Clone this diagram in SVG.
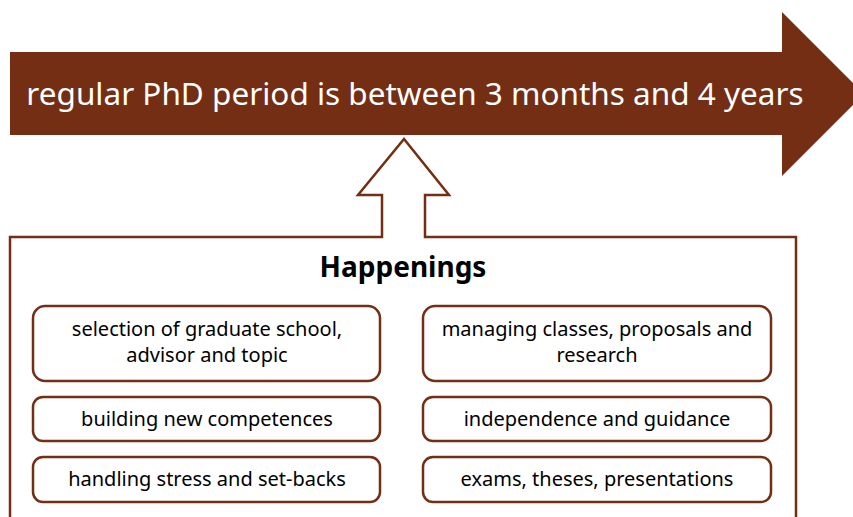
<svg xmlns="http://www.w3.org/2000/svg" width="853" height="517" viewBox="0 0 853 517">
  <style>
    .lbl { font-family: "Noto Sans", "DejaVu Sans", sans-serif; font-size: 20px; fill: #000; text-anchor: middle; }
    .item { fill: #fff; stroke: #732e14; stroke-width: 2.5; }
  </style>
  <rect width="853" height="517" fill="#fff"/>

  <!-- timeline arrow -->
  <g id="timeline">
    <polygon points="10,52 782,52 782,12 864,94 782,176 782,135 10,135" fill="#732e14"/>
    <text x="415" y="105" font-family="Noto Sans, DejaVu Sans, sans-serif" font-size="31.5" fill="#fff" text-anchor="middle">regular PhD period is between 3 months and 4 years</text>
  </g>

  <!-- happenings frame with the hollow up arrow joined to its top edge -->
  <g id="happenings">
    <path d="M10,530 L10,237 L382,237 L382,195 L358,195 L404,139 L449,195 L425,195 L425,237 L796,237 L796,530" fill="none" stroke="#732e14" stroke-width="2.5"/>
    <text x="403" y="277" font-family="Noto Sans, DejaVu Sans, sans-serif" font-size="28" font-weight="bold" fill="#000" text-anchor="middle">Happenings</text>
  </g>

  <g id="selection">
    <rect class="item" x="33" y="306" width="347" height="75" rx="12"/>
    <text class="lbl" x="207" y="336">selection of graduate school,</text>
    <text class="lbl" x="207" y="362">advisor and topic</text>
  </g>
  <g id="managing">
    <rect class="item" x="423" y="306" width="348" height="75" rx="12"/>
    <text class="lbl" x="597" y="336">managing classes, proposals and</text>
    <text class="lbl" x="597" y="362">research</text>
  </g>
  <g id="competences">
    <rect class="item" x="33" y="397" width="347" height="44" rx="10"/>
    <text class="lbl" x="207" y="426">building new competences</text>
  </g>
  <g id="independence">
    <rect class="item" x="423" y="397" width="348" height="44" rx="10"/>
    <text class="lbl" x="597" y="426">independence and guidance</text>
  </g>
  <g id="stress">
    <rect class="item" x="33" y="457" width="347" height="45" rx="10"/>
    <text class="lbl" x="207" y="486">handling stress and set-backs</text>
  </g>
  <g id="exams">
    <rect class="item" x="423" y="457" width="348" height="45" rx="10"/>
    <text class="lbl" x="597" y="486">exams, theses, presentations</text>
  </g>
</svg>
